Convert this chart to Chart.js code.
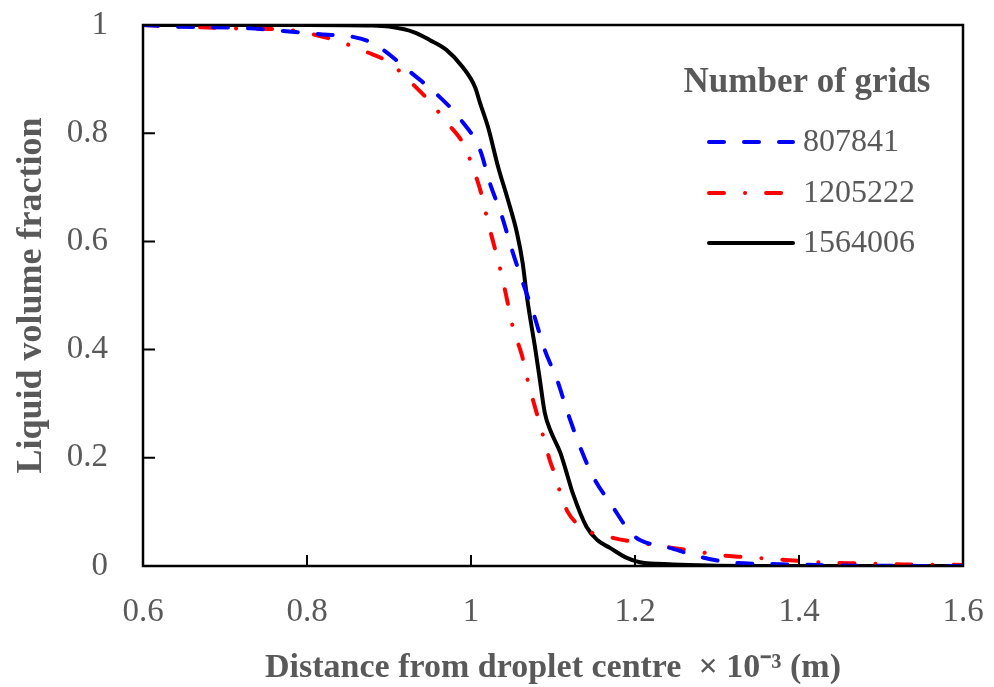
<!DOCTYPE html>
<html>
<head>
<meta charset="utf-8">
<title>Liquid volume fraction</title>
<script src="https://cdn.jsdelivr.net/npm/chart.js@4"></script>
<style>
  html, body { margin: 0; padding: 0; background: #fff; }
  #wrap { width: 994px; height: 687px; position: relative; }
</style>
</head>
<body>
<div id="wrap"><canvas id="chart"></canvas></div>
<script>
// ─── Data ─────────────────────────────────────────────────────────────────────

const xTicks = [0.6, 0.8, 1, 1.2, 1.4, 1.6];
const yTicks = [0, 0.2, 0.4, 0.6, 0.8, 1];
const legendTitle = 'Number of grids';
const seriesNames = ['807841', '1205222', '1564006'];

// 807841 grids (blue, dashed)
const gridsA_x = [0.60, 0.637, 0.73, 0.771, 0.816, 0.856, 0.875, 0.893, 0.926, 0.959, 0.988, 1.011, 1.023, 1.038, 1.050, 1.062, 1.076, 1.090, 1.105, 1.118, 1.133, 1.149, 1.173, 1.194, 1.206, 1.239, 1.279, 1.32, 1.36, 1.45, 1.60];
const gridsA_y = [1.000, 0.997, 0.994, 0.989, 0.983, 0.978, 0.970, 0.954, 0.913, 0.871, 0.824, 0.769, 0.708, 0.645, 0.584, 0.529, 0.468, 0.399, 0.344, 0.283, 0.220, 0.165, 0.109, 0.063, 0.048, 0.035, 0.017, 0.006, 0.004, 0.001, 0.000];

// 1205222 grids (red, dash-dot)
const gridsB_x = [0.60, 0.706, 0.746, 0.776, 0.807, 0.840, 0.873, 0.901, 0.926, 0.950, 0.971, 0.990, 1.002, 1.013, 1.021, 1.029, 1.038, 1.044, 1.051, 1.062, 1.070, 1.078, 1.087, 1.096, 1.102, 1.109, 1.118, 1.137, 1.173, 1.206, 1.239, 1.271, 1.304, 1.328, 1.368, 1.405, 1.438, 1.474, 1.527, 1.60];
const gridsB_y = [1.000, 0.994, 0.993, 0.991, 0.983, 0.969, 0.950, 0.930, 0.895, 0.858, 0.819, 0.782, 0.738, 0.686, 0.634, 0.588, 0.534, 0.492, 0.442, 0.390, 0.338, 0.294, 0.246, 0.196, 0.170, 0.135, 0.100, 0.070, 0.052, 0.043, 0.035, 0.028, 0.020, 0.017, 0.013, 0.009, 0.006, 0.005, 0.003, 0.002];

// 1564006 grids (black, solid)
const gridsC_x = [0.60, 0.70, 0.80, 0.88, 0.90, 0.93, 0.95, 0.97, 0.99, 1.005, 1.011, 1.021, 1.033, 1.045, 1.056, 1.063, 1.068, 1.072, 1.078, 1.084, 1.090, 1.097, 1.109, 1.118, 1.124, 1.141, 1.154, 1.170, 1.190, 1.206, 1.246, 1.29, 1.40, 1.60];
const gridsC_y = [1.000, 1.000, 1.000, 0.999, 0.997, 0.987, 0.972, 0.954, 0.922, 0.885, 0.856, 0.810, 0.738, 0.677, 0.616, 0.560, 0.500, 0.460, 0.405, 0.344, 0.283, 0.250, 0.209, 0.165, 0.135, 0.072, 0.048, 0.033, 0.015, 0.007, 0.003, 0.001, 0.000, 0.000];

// ─── Style ────────────────────────────────────────────────────────────────────

const FONT = "'Liberation Serif', 'Times New Roman', serif";
const TEXT = '#595959';

function toPoints(xs, ys) {
  return xs.map((x, i) => ({ x, y: ys[i] }));
}

// no extra room for overhanging end labels, the layout padding covers it
function noScalePadding(s) {
  s.paddingLeft = 0;
  s.paddingRight = 0;
  s.paddingTop = 0;
  s.paddingBottom = 0;
}

// ─── Plugins ──────────────────────────────────────────────────────────────────

// box frame + inward tick marks
const framePlugin = {
  id: 'frame',
  afterDatasetsDraw(chart) {
    const { ctx, chartArea: a, scales } = chart;
    ctx.save();
    ctx.strokeStyle = '#000';
    ctx.lineWidth = 2.5;
    ctx.strokeRect(a.left, a.top, a.right - a.left, a.bottom - a.top);

    ctx.lineWidth = 2;
    ctx.beginPath();
    xTicks.slice(1, -1).forEach(v => {
      const px = scales.x.getPixelForValue(v);
      ctx.moveTo(px, a.bottom);
      ctx.lineTo(px, a.bottom - 11);
    });
    yTicks.slice(1, -1).forEach(v => {
      const py = scales.y.getPixelForValue(v);
      ctx.moveTo(a.left, py);
      ctx.lineTo(a.left + 12, py);
    });
    ctx.stroke();
    ctx.restore();
  },
};

// legend drawn inside the plot, top right
const legendPlugin = {
  id: 'innerLegend',
  afterDraw(chart) {
    const { ctx } = chart;
    ctx.save();
    ctx.fillStyle = TEXT;
    ctx.font = `bold 35px ${FONT}`;
    ctx.textAlign = 'center';
    ctx.textBaseline = 'alphabetic';
    ctx.fillText(legendTitle, 807, 92);

    const rows = [142, 193, 243];
    chart.data.datasets.forEach((ds, i) => {
      const y = rows[i];
      ctx.beginPath();
      ctx.strokeStyle = ds.borderColor;
      ctx.lineWidth = ds.borderWidth;
      ctx.lineCap = 'round';
      ctx.setLineDash(ds.borderDash || []);
      ctx.moveTo(709, y);
      ctx.lineTo(793, y);
      ctx.stroke();

      ctx.setLineDash([]);
      ctx.fillStyle = TEXT;
      ctx.font = `32px ${FONT}`;
      ctx.textAlign = 'left';
      ctx.textBaseline = 'middle';
      ctx.fillText(ds.label, 803, y + 1);
    });
    ctx.restore();
  },
};

// ─── Chart ────────────────────────────────────────────────────────────────────

function lineSet(label, xs, ys, color, dash) {
  return {
    label,
    data: toPoints(xs, ys),
    borderColor: color,
    backgroundColor: color,
    borderWidth: 4,
    borderDash: dash,
    borderCapStyle: 'round',
    borderJoinStyle: 'round',
    pointRadius: 0,
    cubicInterpolationMode: 'monotone',
    fill: false,
  };
}

function initChart() {
  const ctx = document.getElementById('chart').getContext('2d');
  return new Chart(ctx, {
    type: 'line',
    data: {
      datasets: [
        lineSet(seriesNames[0], gridsA_x, gridsA_y, '#0000ff', [15, 20]),
        lineSet(seriesNames[1], gridsB_x, gridsB_y, '#ff0000', [15, 21, 0.1, 21]),
        lineSet(seriesNames[2], gridsC_x, gridsC_y, '#000000', []),
      ],
    },
    options: {
      responsive: true,
      maintainAspectRatio: false,
      animation: false,
      layout: { padding: { left: 0, right: 31, top: 25, bottom: 0 } },
      plugins: { legend: { display: false }, tooltip: { enabled: false } },
      scales: {
        x: {
          type: 'linear',
          min: 0.6,
          max: 1.6,
          afterBuildTicks: s => { s.ticks = xTicks.map(v => ({ value: v })); },
          afterFit: s => { s.height = 121; noScalePadding(s); },
          grid: { display: false, drawTicks: false },
          border: { display: false },
          ticks: { color: TEXT, font: { family: FONT, size: 33 }, padding: 27, maxRotation: 0, callback: v => String(v) },
          title: {
            display: true,
            text: 'Distance from droplet centre  \u00d7 10\u207b\u00b3 (m)',
            color: TEXT,
            font: { family: FONT, size: 34, weight: 'bold', lineHeight: 1 },
            padding: { top: 0, bottom: 2 },
          },
        },
        y: {
          type: 'linear',
          min: 0,
          max: 1,
          afterBuildTicks: s => { s.ticks = yTicks.map(v => ({ value: v })); },
          afterFit: s => { s.width = 143; noScalePadding(s); },
          grid: { display: false, drawTicks: false },
          border: { display: false },
          ticks: { color: TEXT, font: { family: FONT, size: 33 }, padding: 35, callback: v => String(v) },
          title: {
            display: true,
            text: 'Liquid volume fraction',
            color: TEXT,
            font: { family: FONT, size: 36, weight: 'bold', lineHeight: 1 },
            padding: { top: 14, bottom: 0 },
          },
        },
      },
    },
    plugins: [framePlugin, legendPlugin],
  });
}

document.addEventListener('DOMContentLoaded', () => {
  initChart();
});
</script>
</body>
</html>
